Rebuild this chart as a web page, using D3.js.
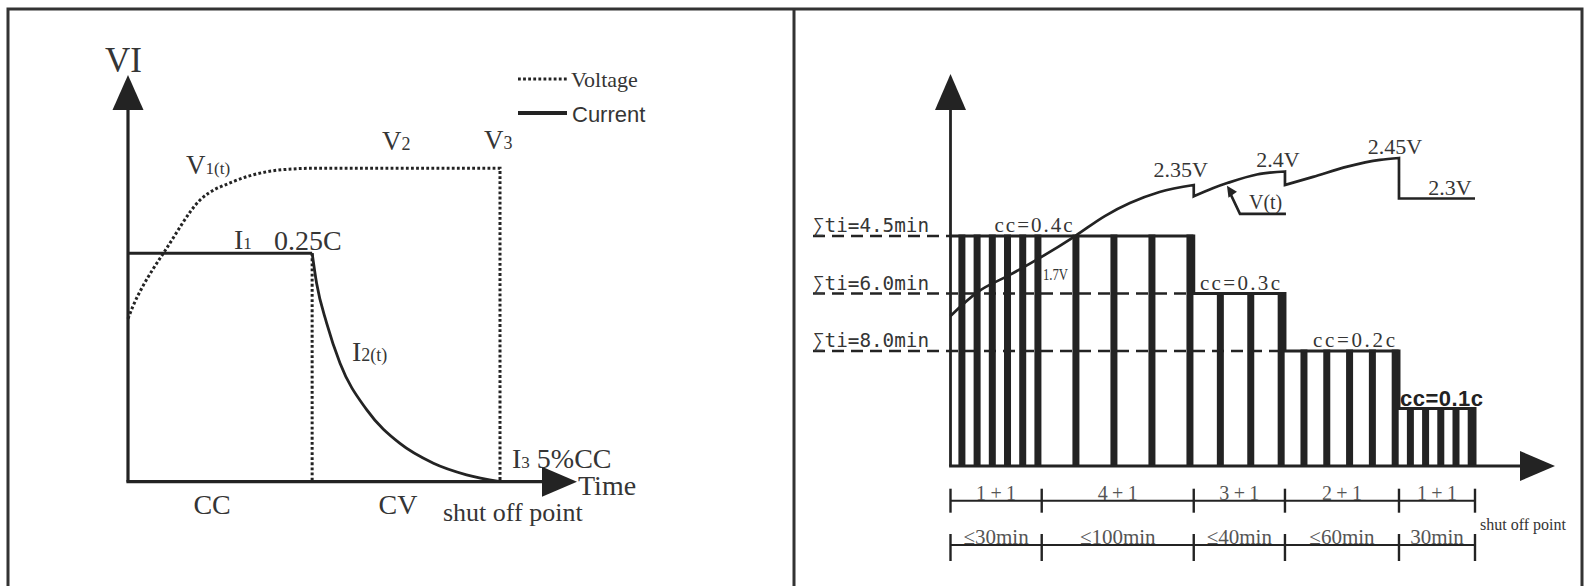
<!DOCTYPE html>
<html>
<head>
<meta charset="utf-8">
<script src="https://cdn.jsdelivr.net/npm/d3@7/dist/d3.min.js"></script>
<style>
  html, body { margin: 0; padding: 0; background: #fff; }
  svg { display: block; }
</style>
</head>
<body>
<svg id="chart" width="1592" height="586"></svg>
<script>
// ---------------- LEFT PANEL DATA (CC-CV charge) ----------------
// time in relative units (0 = start, 100 = shut off point)
const phaseTimes = [0, 49.5, 100];          // start, CC->CV switch, shut off
const phaseLabels = ["CC", "CV"];
const currentCC = 0.729;                     // I1 level (relative to V plateau = 1)
const voltT = [0, 1.3, 4.0, 6.7, 9.9, 19.4, 28.2, 37.3, 44.4, 49.5, 100];
const voltV = [0.52, 0.559, 0.624, 0.678, 0.736, 0.899, 0.957, 0.989, 0.998, 1, 1];
const decayT = [49.5, 50.7, 53.4, 57.0, 64.2, 73.1, 82.1, 91.0, 100];
const decayI = [0.729, 0.633, 0.506, 0.378, 0.229, 0.122, 0.059, 0.022, 0];
const legendLabels = ["Voltage", "Current"];

// ---------------- RIGHT PANEL DATA (pulse charge) ----------------
const stageLabels   = ["1+1", "4+1", "3+1", "2+1", "1+1"];
const stageOn       = [1, 4, 3, 2, 1];       // seconds charging
const stageOff      = [1, 1, 1, 1, 1];       // seconds rest
const stagePulses   = [6, 4, 3, 5, 5];
const stageCurrent  = [0.4, 0.4, 0.3, 0.2, 0.1];
const stageDuration = ["≤30min", "≤100min", "≤40min", "≤60min", "30min"];
const ccLevels = [0.4, 0.3, 0.2, 0.1];
const ccLabels = ["cc=0.4c", "cc=0.3c", "cc=0.2c", "cc=0.1c"];
const sumLevels = [0.4, 0.3, 0.2];
const sumLabels = ["∑ti=4.5min", "∑ti=6.0min", "∑ti=8.0min"];
// voltage curve segments (time s, volts)
const vSegT = [
  [0, 3.6, 7.8, 11.75, 16.4, 20.3, 23.6, 27.5, 32],
  [32, 34.5, 36.5, 40.3, 44],
  [44, 47.7, 52.2, 56.5, 59],
  [59, 69]
];
const vSegV = [
  [1.865, 1.954, 2.017, 2.080, 2.161, 2.235, 2.283, 2.324, 2.35],
  [2.308, 2.338, 2.358, 2.389, 2.40],
  [2.35, 2.38, 2.418, 2.443, 2.45],
  [2.30, 2.30]
];
const vPeakLabels = ["2.35V", "2.4V", "2.45V", "2.3V"];
const vStartLabel = "1.7V";
const vCurveLabel = "V(t)";
const vCurveLabelT = 36.5;

// ---------------- DRAWING ----------------
const svg = d3.select("#chart");
const ink = "#232323";
const txt = "#353535";
const serif = "'Liberation Serif', 'DejaVu Serif', serif";
const sans = "'Liberation Sans', Arial, sans-serif";
const mono = "'DejaVu Sans Mono', monospace";

// frame
const frame = svg.append("g").attr("stroke", "#333").attr("stroke-width", 3).attr("fill", "none");
frame.append("path").attr("d", "M8,586 V9 H1582 V586");
frame.append("path").attr("d", "M794,9 V586");

// ===== LEFT =====
const xL = d3.scaleLinear().domain([0, 100]).range([128, 500]);
const yL = d3.scaleLinear().domain([0, 1]).range([481.7, 168.3]);
const L = svg.append("g");

// axes
L.append("path").attr("d", `M${xL(0)},${yL(0)} V109`).attr("stroke", ink).attr("stroke-width", 3.2).attr("fill", "none");
L.append("path").attr("d", `M${xL(0) - 15.5},110 L${xL(0) + 15.5},110 L${xL(0)},75 Z`).attr("fill", ink);
L.append("path").attr("d", `M${xL(0) - 1.6},${yL(0)} H543`).attr("stroke", ink).attr("stroke-width", 3.2).attr("fill", "none");
L.append("path").attr("d", `M542,${yL(0) - 15} L542,${yL(0) + 15} L577,${yL(0)} Z`).attr("fill", ink);

const dot = { "stroke": ink, "stroke-width": 3, "stroke-dasharray": "2.8,2.3", "fill": "none" };
function applyAttrs(sel, o) { for (const k in o) sel.attr(k, o[k]); return sel; }

// voltage dotted curve + drop at shut off
const vLine = d3.line().x((d, i) => xL(voltT[i])).y(d => yL(d)).curve(d3.curveMonotoneX);
applyAttrs(L.append("path").attr("d", vLine(voltV) + `V${yL(0)}`), dot);
// CC/CV boundary dotted
applyAttrs(L.append("path").attr("d", `M${xL(phaseTimes[1])},${yL(currentCC)} V${yL(0)}`), dot);

// current: flat CC then decay
L.append("path").attr("d", `M${xL(phaseTimes[0])},${yL(currentCC)} H${xL(phaseTimes[1])}`)
  .attr("stroke", ink).attr("stroke-width", 3.2).attr("fill", "none");
const iLine = d3.line().x((d, i) => xL(decayT[i])).y(d => yL(d)).curve(d3.curveMonotoneX);
L.append("path").attr("d", iLine(decayI)).attr("stroke", ink).attr("stroke-width", 2.8).attr("fill", "none");

// texts left
function stxt(g, x, y, parts, opts = {}) {
  const t = g.append("text").attr("x", x).attr("y", y).attr("fill", opts.fill || txt)
    .attr("font-family", opts.family || serif).attr("text-anchor", opts.anchor || "start");
  parts.forEach(p => t.append("tspan").attr("font-size", p[1]).text(p[0]));
  if (opts.weight) t.attr("font-weight", opts.weight);
  return t;
}
stxt(L, 105, 72, [["VI", 35]]);
stxt(L, 186, 174, [["V", 27], ["1(t)", 17]]);
stxt(L, 382, 150, [["V", 27], ["2", 18]]);
stxt(L, 484, 149, [["V", 27], ["3", 18]]);
stxt(L, 234, 249, [["I", 28], ["1", 17]]);
stxt(L, 274, 250, [["0.25C", 28]]);
stxt(L, 352, 361, [["I", 28], ["2(t)", 18]]);
stxt(L, 512, 468, [["I", 28], ["3", 17], [" 5%CC", 28]]);
stxt(L, 578, 495, [["Time", 28]]);
phaseLabels.forEach((p, i) => {
  stxt(L, (xL(phaseTimes[i]) + xL(phaseTimes[i + 1])) / 2 - 8, 514, [[p, 28]], { anchor: "middle" });
});
stxt(L, 443, 521, [["shut off point", 26]]);

// legend
applyAttrs(L.append("path").attr("d", "M518,79 H567"), dot);
L.append("path").attr("d", "M518,113 H567").attr("stroke", ink).attr("stroke-width", 4);
stxt(L, 571, 87, [[legendLabels[0], 22]]);
stxt(L, 572, 122, [[legendLabels[1], 22]], { family: sans });

// ===== RIGHT =====
const totalT = d3.sum(stagePulses.map((n, i) => n * (stageOn[i] + stageOff[i])));
const xR = d3.scaleLinear().domain([0, totalT]).range([950.5, 1475]);
const yR = d3.scaleLinear().domain([0, 0.4]).range([466, 236]);
const vR = d3.scaleLinear().domain([2.30, 2.45]).range([198.5, 158]);
const R = svg.append("g");

// stage boundaries
const bounds = [0];
stagePulses.forEach((n, i) => bounds.push(bounds[i] + n * (stageOn[i] + stageOff[i])));

// dashed Σ lines
sumLevels.forEach((lv, i) => {
  const firstStage = stageCurrent.findIndex(c => c === lv);
  const endX = xR(bounds[firstStage]);
  R.append("path").attr("d", `M813,${yR(lv)} H${endX}`).attr("stroke", ink).attr("stroke-width", 2.6)
    .attr("stroke-dasharray", "12,7").attr("fill", "none");
  R.append("text").attr("x", 813).attr("y", yR(lv) - 4).attr("font-family", mono).attr("font-size", 19)
    .attr("fill", txt).attr("textLength", 116).attr("lengthAdjust", "spacingAndGlyphs").text(sumLabels[i]);
});

// rest bars
stagePulses.forEach((n, s) => {
  const period = stageOn[s] + stageOff[s];
  for (let k = 0; k < n; k++) {
    const r0 = bounds[s] + k * period + stageOn[s];
    const r1 = r0 + stageOff[s];
    R.append("rect").attr("x", xR(r0) + 0.3).attr("width", xR(r1) - xR(r0) - 0.6)
      .attr("y", yR(stageCurrent[s]) - 1.5).attr("height", yR(0) - yR(stageCurrent[s]) + 1.5)
      .attr("fill", ink);
  }
});

// step outline
let step = `M${xR(0)},${yR(stageCurrent[0])}`;
stageCurrent.forEach((c, s) => {
  step += `V${yR(c)} H${xR(bounds[s + 1])}`;
});
step += `V${yR(0)}`;
R.append("path").attr("d", step).attr("stroke", ink).attr("stroke-width", 3).attr("fill", "none");

// axes
R.append("path").attr("d", `M${xR(0)},${yR(0)} V109`).attr("stroke", ink).attr("stroke-width", 2.8).attr("fill", "none");
R.append("path").attr("d", `M${xR(0) - 15.5},110 L${xR(0) + 15.5},110 L${xR(0)},74 Z`).attr("fill", ink);
R.append("path").attr("d", `M${xR(0) - 1.4},${yR(0)} H1521`).attr("stroke", ink).attr("stroke-width", 2.8).attr("fill", "none");
R.append("path").attr("d", `M1520,${yR(0) - 15} L1520,${yR(0) + 15} L1555,${yR(0)} Z`).attr("fill", ink);

// voltage curve
const segLine = d3.line().curve(d3.curveMonotoneX);
let vPath = "";
vSegT.forEach((ts, s) => {
  const pts = ts.map((t, i) => [xR(t), vR(vSegV[s][i])]);
  let d = segLine(pts);
  if (s > 0) d = "L" + d.slice(1);
  vPath += d;
});
R.append("path").attr("d", vPath).attr("stroke", ink).attr("stroke-width", 2.7).attr("fill", "none");

// voltage labels
const peaks = [[32, 2.35, -13, -8], [44, 2.40, -7, -5], [59, 2.45, -4, -4], [69, 2.30, -25, -4]];
peaks.forEach((p, i) => {
  R.append("text").attr("x", xR(p[0]) + p[2]).attr("y", vR(p[1]) + p[3]).attr("text-anchor", "middle")
    .attr("font-family", serif).attr("font-size", 22).attr("fill", txt).text(vPeakLabels[i]);
});
R.append("text").attr("x", 1043).attr("y", 280).attr("font-family", serif).attr("font-size", 16)
  .attr("fill", txt).attr("textLength", 25).attr("lengthAdjust", "spacingAndGlyphs").text(vStartLabel);

// V(t) pointer
const seg2 = 1;
const ai = vSegT[seg2].indexOf(vCurveLabelT);
const ax = xR(vCurveLabelT) - 1, ay = vR(vSegV[seg2][ai]) + 3;
R.append("path").attr("d", `M${ax + 4},${ay + 9} L${ax + 13},${ay + 28} H${ax + 59}`)
  .attr("stroke", ink).attr("stroke-width", 2.6).attr("fill", "none");
R.append("path").attr("d", `M${ax},${ay} L${ax + 10},${ay + 6} L${ax + 1.5},${ay + 12} Z`).attr("fill", ink);
R.append("text").attr("x", ax + 22).attr("y", ay + 23).attr("font-family", serif).attr("font-size", 20)
  .attr("fill", txt).text(vCurveLabel);

// cc labels
ccLevels.forEach((lv, i) => {
  const s0 = stageCurrent.indexOf(lv);
  const s1 = stageCurrent.lastIndexOf(lv);
  let x, fam = serif, fs = 21, w = null, tl = 80;
  if (i === 0) { x = xR(0) + 44; tl = 78; }
  else if (i === 3) { x = xR(bounds[s0]) + 1; fam = sans; fs = 22; w = "bold"; tl = 83; }
  else { x = xR(bounds[s1 + 1]) - (i === 1 ? 85 : 86); tl = i === 1 ? 80 : 82; }
  const t = R.append("text").attr("x", x).attr("y", yR(lv) - (i === 3 ? 3 : 4)).attr("font-family", fam)
    .attr("font-size", fs).attr("fill", i === 3 ? "#222" : txt).attr("textLength", tl)
    .attr("lengthAdjust", "spacing").text(ccLabels[i]);
  if (w) t.attr("font-weight", w);
});

// bottom annotation rows
function row(y, t0, t1, labels, fs, tlen) {
  R.append("path").attr("d", `M${xR(bounds[0])},${y} H${xR(bounds[bounds.length - 1])}`)
    .attr("stroke", ink).attr("stroke-width", 2).attr("fill", "none");
  bounds.forEach(b => {
    R.append("path").attr("d", `M${xR(b)},${y + t0} V${y + t1}`).attr("stroke", ink).attr("stroke-width", 2.4);
  });
  labels.forEach((lab, i) => {
    const t = R.append("text").attr("x", (xR(bounds[i]) + xR(bounds[i + 1])) / 2).attr("y", y - 1)
      .attr("text-anchor", "middle").attr("font-family", serif).attr("font-size", fs).attr("fill", "#555").text(lab);
    if (tlen) t.attr("textLength", tlen).attr("lengthAdjust", "spacing");
  });
}
row(500.7, -12, 12, stageLabels, 20, 40);
row(545, -11, 16, stageDuration, 21, null);
R.append("text").attr("x", 1480).attr("y", 530).attr("font-family", serif).attr("font-size", 16)
  .attr("fill", txt).text("shut off point");
</script>
</body>
</html>
